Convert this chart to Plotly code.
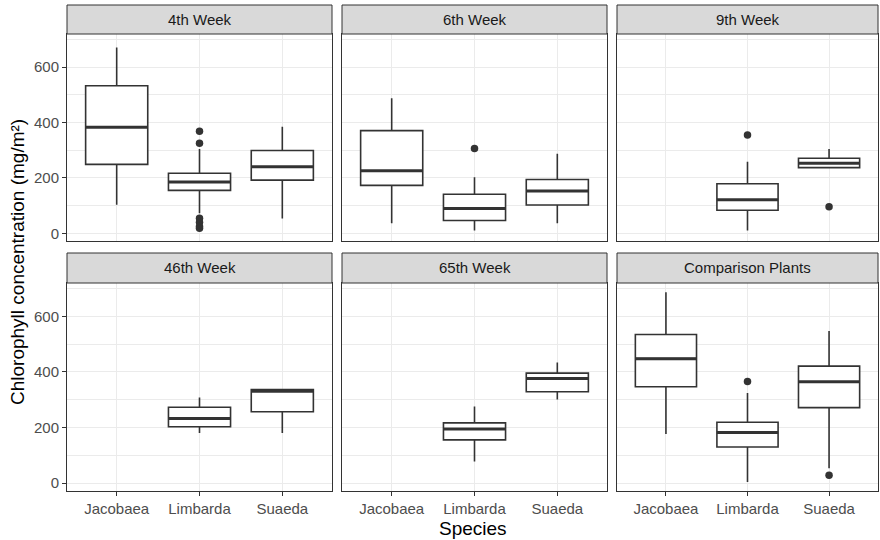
import plotly.graph_objects as go

FACETS = ["4th Week", "6th Week", "9th Week", "46th Week", "65th Week", "Comparison Plants"]
SPECIES = ["Jacobaea", "Limbarda", "Suaeda"]

LOWER = [[103, 72, 53], [36, 10, 36], [None, 10, 237], [None, 181, 181], [None, 78, 301], [177, 4, 54]]
Q1 = [[249, 155, 192], [173, 46, 102], [None, 83, 237], [None, 203, 257], [None, 156, 329], [347, 130, 272]]
MEDIAN = [[383, 185, 240], [226, 89, 153], [None, 121, 253], [None, 233, 331], [None, 195, 377], [448, 182, 365]]
Q3 = [[533, 217, 299], [371, 141, 194], [None, 179, 271], [None, 273, 337], [None, 217, 396], [535, 219, 421]]
UPPER = [[671, 304, 385], [488, 202, 287], [None, 258, 304], [None, 308, 337], [None, 276, 434], [687, 324, 547]]

OUT_FACET = [0, 0, 0, 0, 0, 0, 1, 2, 2, 5, 5]
OUT_SPECIES = [1, 1, 1, 1, 1, 1, 1, 1, 2, 1, 2]
OUT_VALUE = [369, 325, 54, 40, 24, 18, 306, 355, 96, 366, 29]

Y_TICKS = [0, 200, 400, 600]

W, H = 880, 540
COLS = [(67, 332), (342, 607), (617, 878)]
ROWS = [(34, 241), (283, 491)]
STRIPS = [(5, 34), (253, 283)]
FONT = "Liberation Sans, Arial, sans-serif"
DARK = "#333333"

fig = go.Figure()
layout = {}
shapes = []
annotations = []

for i, name in enumerate(FACETS):
    r, c = divmod(i, 3)
    sfx = "" if i == 0 else str(i + 1)
    idx = [k for k in range(3) if MEDIAN[i][k] is not None]
    xs = [k + 1 for k in idx]
    fig.add_trace(go.Box(
        x=xs,
        q1=[Q1[i][k] for k in idx],
        median=[MEDIAN[i][k] for k in idx],
        q3=[Q3[i][k] for k in idx],
        lowerfence=[LOWER[i][k] for k in idx],
        upperfence=[UPPER[i][k] for k in idx],
        width=0.75, whiskerwidth=0, fillcolor="white",
        line=dict(color=DARK, width=1.6), boxpoints=False,
        hoverinfo="skip", showlegend=False,
        xaxis="x" + sfx, yaxis="y" + sfx,
    ))
    mx, my = [], []
    for k in idx:
        mx += [k + 1 - 0.375, k + 1 + 0.375, None]
        my += [MEDIAN[i][k], MEDIAN[i][k], None]
    fig.add_trace(go.Scatter(
        x=mx, y=my, mode="lines", line=dict(color=DARK, width=3),
        hoverinfo="skip", showlegend=False, xaxis="x" + sfx, yaxis="y" + sfx,
    ))
    ox = [OUT_SPECIES[j] + 1 for j in range(len(OUT_VALUE)) if OUT_FACET[j] == i]
    oy = [OUT_VALUE[j] for j in range(len(OUT_VALUE)) if OUT_FACET[j] == i]
    if ox:
        fig.add_trace(go.Scatter(
            x=ox, y=oy, mode="markers", marker=dict(color=DARK, size=7.5),
            hoverinfo="skip", showlegend=False, xaxis="x" + sfx, yaxis="y" + sfx,
        ))

    x0, x1 = COLS[c]
    y0, y1 = ROWS[r]
    layout["xaxis" + sfx] = dict(
        domain=[x0 / W, x1 / W], range=[0.4, 3.6], anchor="y" + sfx,
        tickvals=[1, 2, 3], ticktext=SPECIES, showticklabels=(r == 1),
        ticks="outside" if r == 1 else "", ticklen=4, tickcolor=DARK,
        tickfont=dict(family=FONT, size=15, color="#4d4d4d"),
        showgrid=True, gridcolor="#ebebeb", gridwidth=1,
        showline=True, mirror=True, linecolor=DARK, linewidth=1, zeroline=False,
    )
    layout["yaxis" + sfx] = dict(
        domain=[1 - y1 / H, 1 - y0 / H], range=[-28, 720], anchor="x" + sfx,
        tickvals=Y_TICKS, showticklabels=(c == 0),
        ticks="outside" if c == 0 else "", ticklen=4, tickcolor=DARK,
        tickfont=dict(family=FONT, size=15, color="#4d4d4d"),
        showgrid=True, gridcolor="#ebebeb", gridwidth=1,
        minor=dict(dtick=100, tick0=0, showgrid=True, gridcolor="#ebebeb", gridwidth=0.5, ticks=""),
        showline=True, mirror=True, linecolor=DARK, linewidth=1, zeroline=False,
    )
    s0, s1 = STRIPS[r]
    shapes.append(dict(type="rect", xref="paper", yref="paper",
                       x0=x0 / W, x1=x1 / W, y0=1 - s1 / H, y1=1 - s0 / H,
                       fillcolor="#d9d9d9", line=dict(color=DARK, width=1), layer="above"))
    annotations.append(dict(text=name, xref="paper", yref="paper",
                            x=(x0 + x1) / 2 / W, y=1 - (s0 + s1) / 2 / H,
                            xanchor="center", yanchor="middle", showarrow=False,
                            font=dict(family=FONT, size=15, color="#1a1a1a")))

annotations.append(dict(text="Species", xref="paper", yref="paper",
                        x=472.5 / W, y=1 - 528 / H, xanchor="center", yanchor="middle",
                        showarrow=False, font=dict(family=FONT, size=19, color="black")))
annotations.append(dict(text="Chlorophyll concentration (mg/m²)", xref="paper", yref="paper",
                        x=17 / W, y=1 - 262 / H, xanchor="center", yanchor="middle", textangle=-90,
                        showarrow=False, font=dict(family=FONT, size=19, color="black")))

fig.update_layout(
    width=W, height=H, margin=dict(l=0, r=0, t=0, b=0),
    paper_bgcolor="white", plot_bgcolor="white",
    shapes=shapes, annotations=annotations, **layout,
)
fig.write_html(
    "out.html",
    config={"displayModeBar": False},
    post_script="document.body.style.margin='0';document.body.style.overflow='hidden';",
)
